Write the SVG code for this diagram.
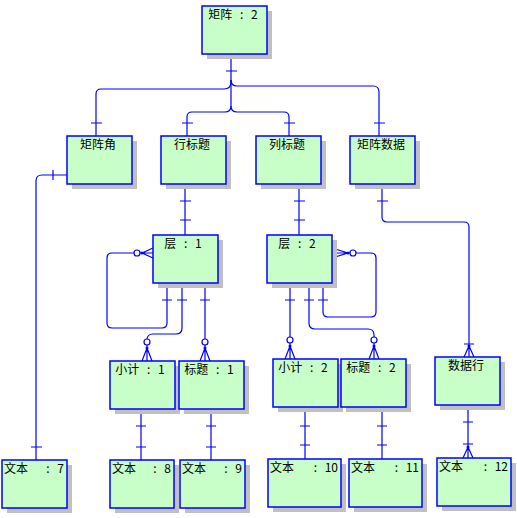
<svg xmlns="http://www.w3.org/2000/svg" width="517" height="518" viewBox="0 0 517 518">
<style>
.sh{fill:#c0c0c0}
.bx{fill:#c8ffc8;stroke:#0000ff;stroke-width:1.5}
.t{font-family:"Noto Sans CJK SC","Noto Sans CJK JP",sans-serif;font-size:12px;fill:#000;word-spacing:5px}
.c{text-anchor:middle}
.e{text-anchor:end}
.ln{fill:none;stroke:#0000ff;stroke-width:1.2}
.ci{fill:#fff;stroke:#0000ff;stroke-width:1.2}
.dt{fill:#0000ff}
</style>
<rect width="517" height="518" fill="#fff"/>
<g id="connectors">
<path class="ln" d="M231,54 V82 Q231,89 224,89 H101 Q96,89 96,94 V136"/>
<path class="ln" d="M231,80 Q231,86 237,86 H373 Q379,86 379,92 V136"/>
<path class="ln" d="M231,80 V106 Q231,112 225,112 H192 Q187,112 187,117 V136"/>
<path class="ln" d="M231,106 Q231,112 237,112 H284 Q289,112 289,117 V136"/>
<path class="ln" d="M226,71 H237 M91,123 H102 M374,123 H385 M182,123 H193 M284,123 H295"/>
<path class="ln" d="M185,184 V235 M180,201 H191 M180,220 H191"/>
<path class="ln" d="M299,184 V235 M294,201 H305 M294,220 H305"/>
<path class="ln" d="M134,253 H112 Q107,253 107,258 V323 Q107,328 112,328 H162 Q167,328 167,323 V283 M162,300 H172"/>
<circle class="ci" cx="137" cy="253" r="3"/>
<path class="ln" d="M140,253 H153 M142,253 L153,248 M142,253 L153,258"/>
<circle class="dt" cx="142" cy="253" r="1.5"/>
<path class="ln" d="M182,283 V328 Q182,334 176,334 H153 Q147,334 147,340 M177,300 H187"/>
<circle class="ci" cx="147" cy="342" r="3"/>
<path class="ln" d="M147,345 V361 M147,348 L142,361 M147,348 L152,361"/>
<circle class="dt" cx="147" cy="348" r="1.5"/>
<path class="ln" d="M205,283 V339 M200,300 H210"/>
<circle class="ci" cx="205" cy="342" r="3"/>
<path class="ln" d="M205,345 V361 M205,348 L200,361 M205,348 L210,361"/>
<circle class="dt" cx="205" cy="348" r="1.5"/>
<path class="ln" d="M290,283 V337 M285,300 H295"/>
<circle class="ci" cx="290" cy="340" r="3"/>
<path class="ln" d="M290,343 V359 M290,346 L285,359 M290,346 L295,359"/>
<circle class="dt" cx="290" cy="346" r="1.5"/>
<path class="ln" d="M309,283 V323 Q309,329 315,329 H368 Q374,329 374,335 V337 M304,300 H314"/>
<circle class="ci" cx="374" cy="340" r="3"/>
<path class="ln" d="M374,343 V359 M374,346 L369,359 M374,346 L379,359"/>
<circle class="dt" cx="374" cy="346" r="1.5"/>
<path class="ln" d="M323,283 V312 Q323,317 328,317 H371 Q376,317 376,312 V258 Q376,253 371,253 H356 M318,300 H328"/>
<circle class="ci" cx="353" cy="253" r="3"/>
<path class="ln" d="M350,253 H332 M348,253 L332,248 M348,253 L332,258"/>
<circle class="dt" cx="348" cy="253" r="1.5"/>
<path class="ln" d="M67,175 H42 Q36,175 36,181 V460 M53,170 V180 M31,447 H42"/>
<path class="ln" d="M382,184 V217 Q382,222 387,222 H464 Q469,222 469,227 V357 M377,201 H388 M464,344 H474 M469,346 L464,357 M469,346 L474,357"/>
<circle class="dt" cx="469" cy="346" r="1.5"/>
<path class="ln" d="M468,405 V458 M463,422 H473 M463,444 H473 M468,447 L463,458 M468,447 L473,458"/>
<circle class="dt" cx="468" cy="447" r="1.5"/>
<path class="ln" d="M141,409 V460 M136,426 H146 M136,447 H146"/>
<path class="ln" d="M211,409 V460 M206,426 H216 M206,447 H216"/>
<path class="ln" d="M305,407 V459 M300,426 H310 M300,445 H310"/>
<path class="ln" d="M382,407 V459 M377,426 H387 M377,445 H387"/>
</g>
<g id="n_juzhen"><rect class="sh" x="207" y="11" width="65" height="48"/><rect class="bx" x="202" y="6" width="65" height="48"/><text class="t c" x="233" y="19">矩阵 : 2</text></g>
<g id="n_jiao"><rect class="sh" x="72" y="141" width="65" height="48"/><rect class="bx" x="67" y="136" width="65" height="48"/><text class="t c" x="98" y="149">矩阵角</text></g>
<g id="n_hangbt"><rect class="sh" x="166" y="141" width="65" height="48"/><rect class="bx" x="161" y="136" width="65" height="48"/><text class="t c" x="192" y="149">行标题</text></g>
<g id="n_liebt"><rect class="sh" x="261" y="141" width="65" height="48"/><rect class="bx" x="256" y="136" width="65" height="48"/><text class="t c" x="287" y="149">列标题</text></g>
<g id="n_shuju"><rect class="sh" x="355" y="141" width="65" height="48"/><rect class="bx" x="350" y="136" width="65" height="48"/><text class="t c" x="381" y="149">矩阵数据</text></g>
<g id="n_ceng1"><rect class="sh" x="158" y="240" width="65" height="48"/><rect class="bx" x="153" y="235" width="65" height="48"/><text class="t c" x="183" y="248">层 : 1</text></g>
<g id="n_ceng2"><rect class="sh" x="272" y="240" width="65" height="48"/><rect class="bx" x="267" y="235" width="65" height="48"/><text class="t c" x="297" y="248">层 : 2</text></g>
<g id="n_xj1"><rect class="sh" x="115" y="366" width="65" height="48"/><rect class="bx" x="110" y="361" width="65" height="48"/><text class="t c" x="140" y="374">小计 : 1</text></g>
<g id="n_bt1"><rect class="sh" x="184" y="366" width="65" height="48"/><rect class="bx" x="179" y="361" width="65" height="48"/><text class="t c" x="209" y="374">标题 : 1</text></g>
<g id="n_xj2"><rect class="sh" x="278" y="364" width="65" height="48"/><rect class="bx" x="273" y="359" width="65" height="48"/><text class="t c" x="303" y="372">小计 : 2</text></g>
<g id="n_bt2"><rect class="sh" x="346" y="364" width="65" height="48"/><rect class="bx" x="341" y="359" width="65" height="48"/><text class="t c" x="371" y="372">标题 : 2</text></g>
<g id="n_shujuhang"><rect class="sh" x="440" y="362" width="65" height="48"/><rect class="bx" x="435" y="357" width="65" height="48"/><text class="t c" x="466" y="370">数据行</text></g>
<g id="n_wb7"><rect class="sh" x="7" y="465" width="65" height="48"/><rect class="bx" x="2" y="460" width="65" height="48"/><text class="t" x="4" y="473">文本<tspan class="e" x="64">: 7</tspan></text></g>
<g id="n_wb8"><rect class="sh" x="115" y="465" width="64" height="48"/><rect class="bx" x="110" y="460" width="64" height="48"/><text class="t" x="112" y="473">文本<tspan class="e" x="171">: 8</tspan></text></g>
<g id="n_wb9"><rect class="sh" x="185" y="465" width="65" height="48"/><rect class="bx" x="180" y="460" width="65" height="48"/><text class="t" x="182" y="473">文本<tspan class="e" x="242">: 9</tspan></text></g>
<g id="n_wb10"><rect class="sh" x="273" y="464" width="73" height="48"/><rect class="bx" x="268" y="459" width="73" height="48"/><text class="t" x="270" y="472">文本<tspan class="e" x="338">: 10</tspan></text></g>
<g id="n_wb11"><rect class="sh" x="354" y="464" width="73" height="48"/><rect class="bx" x="349" y="459" width="73" height="48"/><text class="t" x="351" y="472">文本<tspan class="e" x="419">: 11</tspan></text></g>
<g id="n_wb12"><rect class="sh" x="442" y="463" width="74" height="48"/><rect class="bx" x="437" y="458" width="74" height="48"/><text class="t" x="439" y="471">文本<tspan class="e" x="508">: 12</tspan></text></g>
</svg>
